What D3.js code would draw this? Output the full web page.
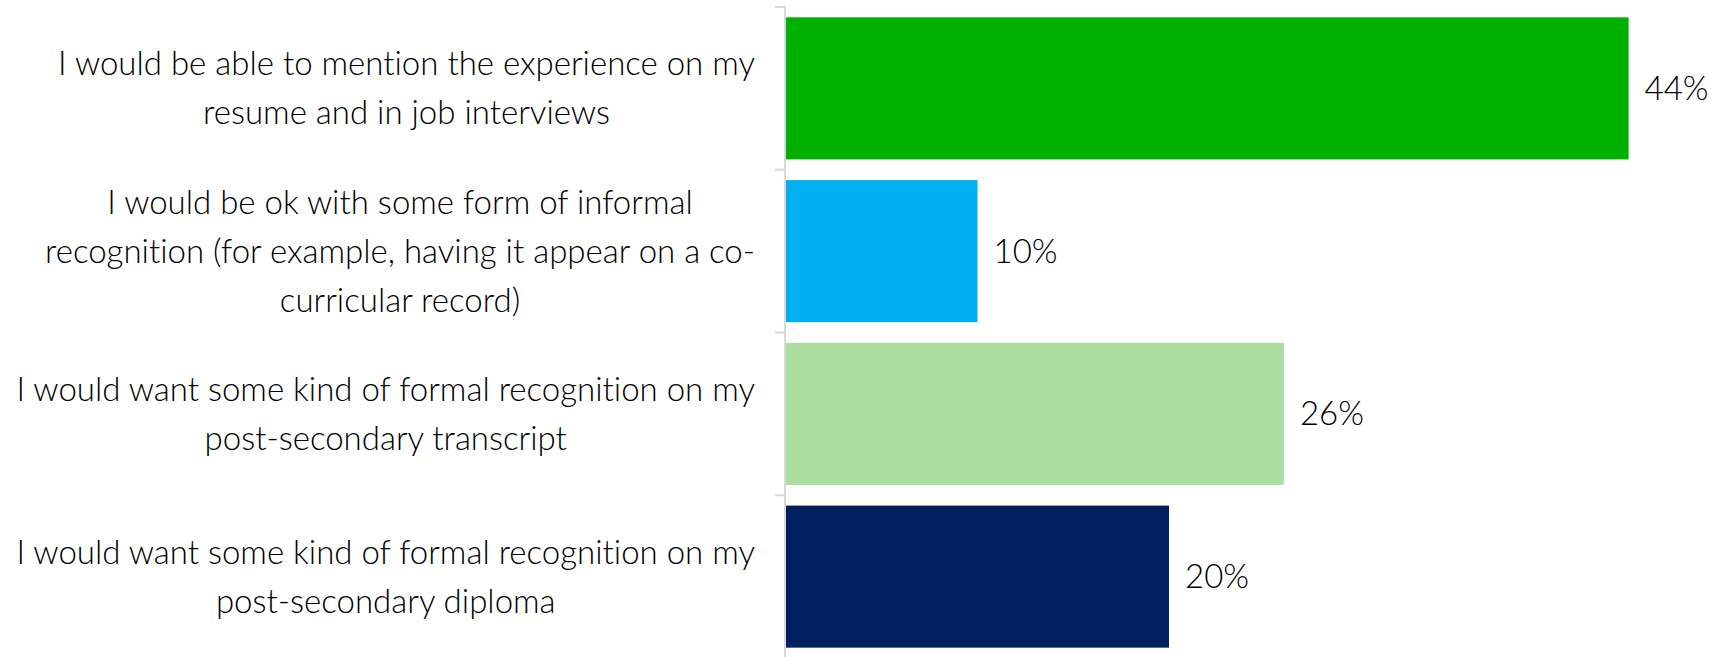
<!DOCTYPE html>
<html>
<head>
<meta charset="utf-8">
<script src="https://cdn.jsdelivr.net/npm/d3@7"></script>
<style>
  html, body { margin: 0; padding: 0; background: #ffffff; }
  svg { display: block; }
  text { font-family: Lato, "Open Sans", sans-serif; font-weight: 300; fill: #000000; font-variant-ligatures: none; }
</style>
</head>
<body>
<svg id="chart" width="1720" height="657"></svg>
<script>
// Survey responses: how students would want the experience recognised
const categories = [
  "I would be able to mention the experience on my resume and in job interviews",
  "I would be ok with some form of informal recognition (for example, having it appear on a co-curricular record)",
  "I would want some kind of formal recognition on my post-secondary transcript",
  "I would want some kind of formal recognition on my post-secondary diploma"
];
// Wrapped lines of each category label
const labelLines = [
  ["I would be able to mention the experience on my", "resume and in job interviews"],
  ["I would be ok with some form of informal", "recognition (for example, having it appear on a co-", "curricular record)"],
  ["I would want some kind of formal recognition on my", "post-secondary transcript"],
  ["I would want some kind of formal recognition on my", "post-secondary diploma"]
];
const values = [44, 10, 26, 20];
const colors = ["#00B000", "#00B0F0", "#ACDEA2", "#002060"];

const W = 1720, H = 657;
const axisX = 786;
const labelRight = 755;
const fontSize = 33;
const valueFontSize = 33;
const lineHeight = 49;

const svg = d3.select("#chart");

const y = d3.scaleBand()
  .domain(categories)
  .range([7, 658])
  .paddingInner(0.127)
  .paddingOuter(0.0635);

const x = d3.scaleLinear()
  .domain([0, 50])
  .range([axisX, axisX + 957.5]);

// Bars
svg.append("g")
  .selectAll("rect")
  .data(values)
  .join("rect")
  .attr("x", x(0))
  .attr("y", (d, i) => y(categories[i]))
  .attr("width", d => x(d) - x(0))
  .attr("height", y.bandwidth())
  .attr("fill", (d, i) => colors[i]);

// Vertical axis line and category boundary ticks
const axis = svg.append("g").attr("stroke", "#d9d9d9").attr("stroke-width", 2);
const r = y.range();
axis.append("line")
  .attr("x1", axisX - 1).attr("x2", axisX - 1)
  .attr("y1", r[0] - 1).attr("y2", H);
d3.range(categories.length + 1).forEach(i => {
  const yy = r[0] + i * y.step();
  axis.append("line")
    .attr("x1", axisX - 11).attr("x2", axisX - 1)
    .attr("y1", yy).attr("y2", yy);
});

// Value labels
svg.append("g")
  .selectAll("text")
  .data(values)
  .join("text")
  .attr("x", d => x(d) + 16)
  .attr("y", (d, i) => y(categories[i]) + y.bandwidth() / 2)
  .attr("dy", "0.35em")
  .attr("font-size", valueFontSize)
  .text(d => d + "%");

// Category labels: each block centred, block right-aligned next to the axis
const labels = svg.append("g");
labelLines.forEach((lines, i) => {
  const g = labels.append("g");
  const cy = y(categories[i]) + y.bandwidth() / 2;
  const texts = lines.map((ln, j) =>
    g.append("text")
      .attr("font-size", fontSize)
      .attr("text-anchor", "middle")
      .attr("y", cy + (j - (lines.length - 1) / 2) * lineHeight)
      .attr("dy", "0.35em")
      .text(ln)
  );
  const maxW = d3.max(texts, t => t.node().getComputedTextLength());
  texts.forEach(t => t.attr("x", labelRight - maxW / 2));
});
</script>
</body>
</html>
